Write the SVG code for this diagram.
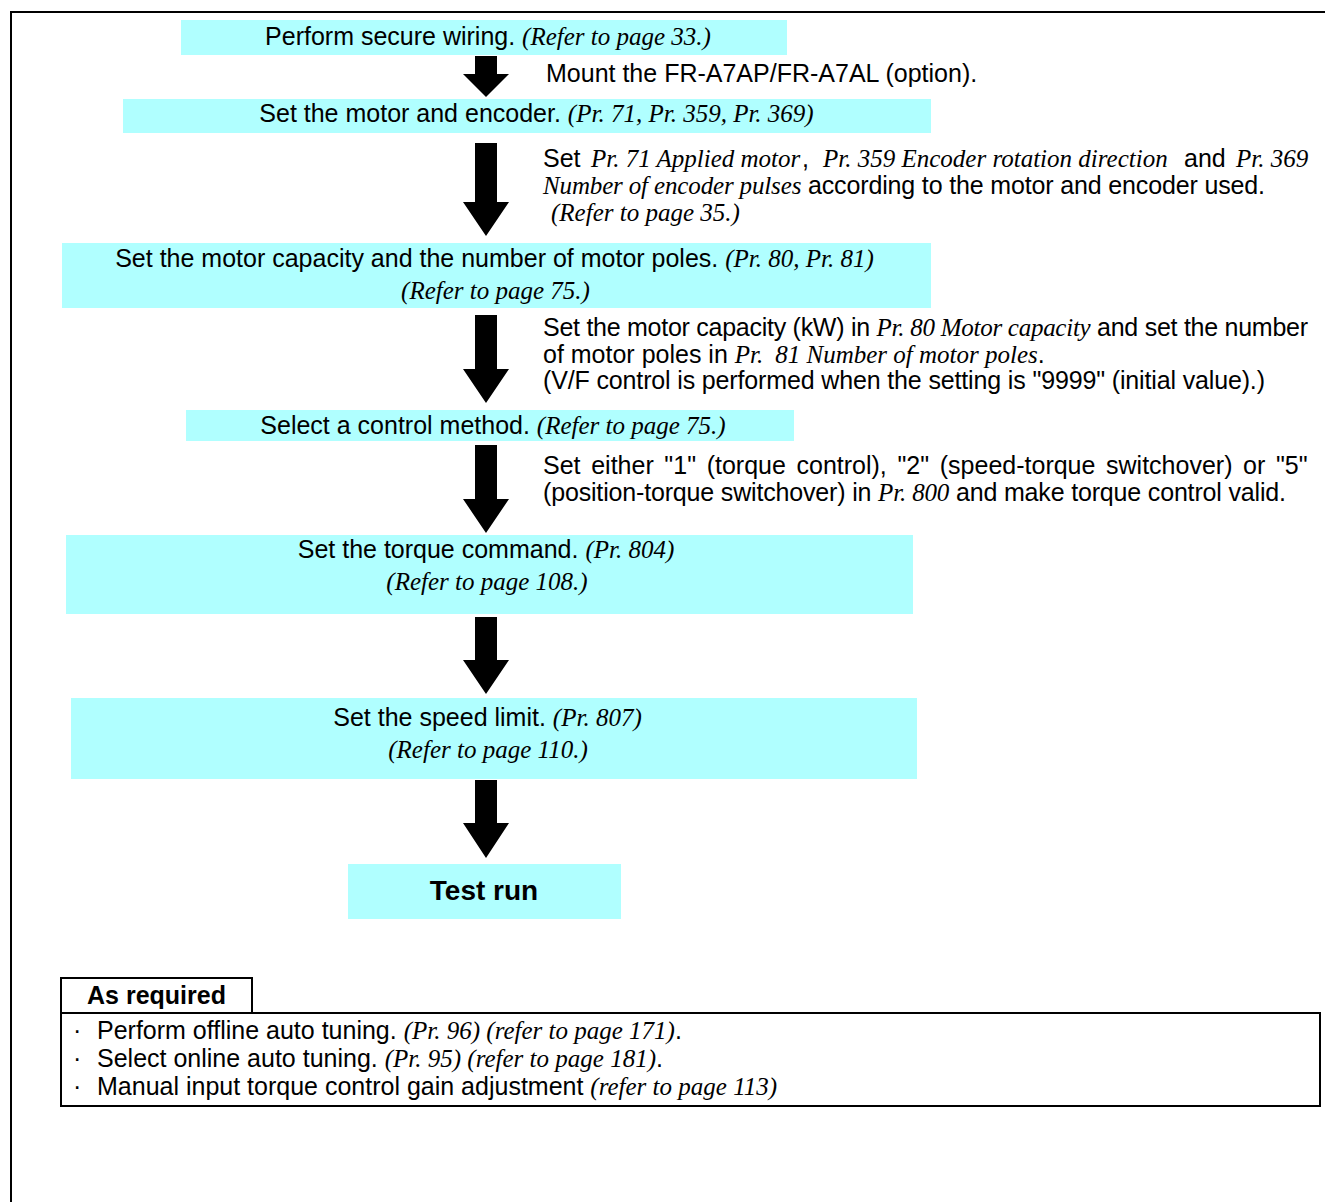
<svg xmlns="http://www.w3.org/2000/svg" width="1325" height="1202" viewBox="0 0 1325 1202">
<style>
.box{fill:#b0ffff;stroke:none}
.t{font-family:"Liberation Sans",Arial,sans-serif;font-size:25px;fill:#000}
.i{font-family:"Liberation Serif","Times New Roman",serif;font-style:italic;font-size:25px}
.b{font-family:"Liberation Sans",Arial,sans-serif;font-weight:bold;fill:#000}
.frame{fill:none;stroke:#000;stroke-width:2}
.arrow{fill:#000}
</style>
<rect class="frame" x="11" y="12" width="1330" height="1210"/>
<g id="n1">
<rect class="box" x="181" y="20" width="606" height="35"/>
<text class="t" x="488" y="45" text-anchor="middle">Perform secure wiring. <tspan class="i">(Refer to page 33.)</tspan></text>
</g>
<g id="n1note"><text class="t" x="546" y="82">Mount the FR-A7AP/FR-A7AL (option).</text></g>
<g id="n2">
<rect class="box" x="123" y="99" width="808" height="34"/>
<text class="t" x="536.5" y="122" text-anchor="middle">Set the motor and encoder. <tspan class="i">(Pr. 71, Pr. 359, Pr. 369)</tspan></text>
</g>
<g id="n2note">
<text class="t" y="167"><tspan x="543">Set</tspan><tspan class="i" x="591">Pr. 71 Applied motor</tspan><tspan x="802">,</tspan><tspan class="i" x="823">Pr. 359 Encoder rotation direction</tspan><tspan x="1184">and</tspan><tspan class="i" x="1236">Pr. 369</tspan></text>
<text class="t" x="543" y="194" textLength="722" lengthAdjust="spacing"><tspan class="i">Number of encoder pulses</tspan> according to the motor and encoder used.</text>
<text class="t" x="551" y="221"><tspan class="i">(Refer to page 35.)</tspan></text>
</g>
<g id="n3">
<rect class="box" x="62" y="243" width="869" height="65"/>
<text class="t" x="494.5" y="267" text-anchor="middle">Set the motor capacity and the number of motor poles. <tspan class="i">(Pr. 80, Pr. 81)</tspan></text>
<text class="t" x="495.5" y="299" text-anchor="middle"><tspan class="i">(Refer to page 75.)</tspan></text>
</g>
<g id="n3note">
<text class="t" x="543" y="336" textLength="765" lengthAdjust="spacing">Set the motor capacity (kW) in <tspan class="i">Pr. 80 Motor capacity</tspan> and set the number</text>
<text class="t" x="543" y="363">of motor poles in <tspan class="i">Pr.</tspan><tspan class="i" dx="12">81 Number of motor poles</tspan>.</text>
<text class="t" x="543" y="389" textLength="722" lengthAdjust="spacing">(V/F control is performed when the setting is "9999" (initial value).)</text>
</g>
<g id="n4">
<rect class="box" x="186" y="410" width="608" height="31"/>
<text class="t" x="493" y="434" text-anchor="middle">Select a control method. <tspan class="i">(Refer to page 75.)</tspan></text>
</g>
<g id="n4note">
<text class="t" x="543" y="474" word-spacing="3.7">Set either "1" (torque control), "2" (speed-torque switchover) or "5"</text>
<text class="t" x="543" y="501" textLength="743" lengthAdjust="spacing">(position-torque switchover) in <tspan class="i">Pr. 800</tspan> and make torque control valid.</text>
</g>
<g id="n5">
<rect class="box" x="66" y="535" width="847" height="79"/>
<text class="t" x="486" y="558" text-anchor="middle">Set the torque command. <tspan class="i">(Pr. 804)</tspan></text>
<text class="t" x="487" y="590" text-anchor="middle"><tspan class="i">(Refer to page 108.)</tspan></text>
</g>
<g id="n6">
<rect class="box" x="71" y="698" width="846" height="81"/>
<text class="t" x="487.5" y="726" text-anchor="middle">Set the speed limit. <tspan class="i">(Pr. 807)</tspan></text>
<text class="t" x="488" y="758" text-anchor="middle"><tspan class="i">(Refer to page 110.)</tspan></text>
</g>
<g id="n7">
<rect class="box" x="348" y="864" width="273" height="55"/>
<text class="b" x="484" y="900" font-size="28" text-anchor="middle">Test run</text>
</g>
<g id="connectors">
<path class="arrow" d="M475,56 H497 V74 H509 L486,97 L463,74 H475 Z"/>
<path class="arrow" d="M475,143 H497 V202 H509 L486,236 L463,202 H475 Z"/>
<path class="arrow" d="M475,315 H497 V369 H509 L486,403 L463,369 H475 Z"/>
<path class="arrow" d="M475,445 H497 V499 H509 L486,533 L463,499 H475 Z"/>
<path class="arrow" d="M475,617 H497 V660 H509 L486,694 L463,660 H475 Z"/>
<path class="arrow" d="M475,780 H497 V823 H509 L486,858 L463,823 H475 Z"/>
</g>
<g id="asrequired">
<rect class="frame" x="61" y="978" width="191" height="35"/>
<text class="b" x="87" y="1004" font-size="25">As required</text>
<rect class="frame" x="61" y="1013" width="1259" height="93"/>
<text class="t" y="1039"><tspan x="73">·</tspan><tspan x="97">Perform offline auto tuning. </tspan><tspan class="i">(Pr. 96) (refer to page 171)</tspan>.</text>
<text class="t" y="1067"><tspan x="73">·</tspan><tspan x="97">Select online auto tuning. </tspan><tspan class="i">(Pr. 95) (refer to page 181)</tspan>.</text>
<text class="t" y="1095"><tspan x="73">·</tspan><tspan x="97">Manual input torque control gain adjustment </tspan><tspan class="i">(refer to page 113)</tspan></text>
</g>
</svg>
